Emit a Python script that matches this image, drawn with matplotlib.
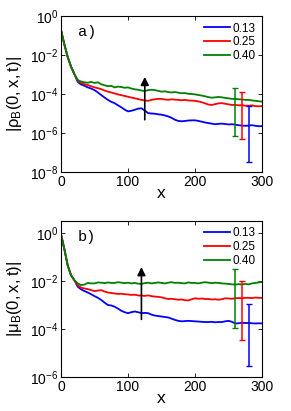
import numpy as np
import matplotlib
matplotlib.use("Agg")
import matplotlib.pyplot as plt

plt.rcParams['font.family'] = ['Liberation Sans', 'DejaVu Sans']
plt.rcParams['mathtext.default'] = 'regular'

# ---------------- data (log10 values) ----------------
x = np.arange(0, 301, 5)
labels = ["0.13", "0.25", "0.40"]
colors = ["#0000ff", "#ff0000", "#008000"]

a_start = [-0.72, -1.45, -2.10, -2.60, -2.98]
a_blue = [-3.38, -3.51, -3.58, -3.66, -3.72, -3.80, -3.92, -4.05, -4.18, -4.30, -4.40, -4.47, -4.58, -4.68,
          -4.80, -4.89, -4.86, -4.81, -4.75, -4.73, -4.85, -4.98, -5.00, -5.01, -5.04, -5.06, -5.10, -5.15,
          -5.22, -5.32, -5.38, -5.40, -5.38, -5.36, -5.35, -5.35, -5.38, -5.42, -5.46, -5.49, -5.52, -5.55,
          -5.53, -5.52, -5.54, -5.56, -5.55, -5.57, -5.60, -5.62, -5.63, -5.62, -5.60, -5.63, -5.65, -5.65]
a_red = [-3.32, -3.43, -3.50, -3.54, -3.60, -3.66, -3.70, -3.75, -3.82, -3.88, -3.92, -3.97, -4.02, -4.06,
         -4.10, -4.14, -4.18, -4.22, -4.26, -4.30, -4.33, -4.35, -4.30, -4.27, -4.25, -4.25, -4.28, -4.30,
         -4.27, -4.29, -4.30, -4.32, -4.30, -4.33, -4.34, -4.35, -4.38, -4.42, -4.48, -4.54, -4.56, -4.52,
         -4.48, -4.47, -4.50, -4.53, -4.56, -4.56, -4.58, -4.57, -4.60, -4.60, -4.58, -4.62, -4.63, -4.62]
a_green = [-3.28, -3.36, -3.40, -3.42, -3.38, -3.43, -3.40, -3.50, -3.55, -3.60, -3.58, -3.66, -3.62, -3.64,
           -3.68, -3.66, -3.72, -3.76, -3.78, -3.82, -3.85, -3.80, -3.78, -3.80, -3.84, -3.88, -3.86, -3.90,
           -3.92, -3.90, -3.93, -3.96, -3.95, -3.99, -4.00, -4.02, -4.05, -4.08, -4.12, -4.16, -4.19, -4.17,
           -4.15, -4.17, -4.20, -4.22, -4.25, -4.25, -4.27, -4.28, -4.30, -4.30, -4.33, -4.35, -4.37, -4.39]

b_start = [-0.05, -0.67, -1.35, -1.76, -1.97]
b_blue = [-2.24, -2.35, -2.42, -2.48, -2.55, -2.63, -2.70, -2.79, -2.90, -3.00, -3.02, -3.07, -3.15, -3.24,
          -3.30, -3.34, -3.30, -3.27, -3.30, -3.34, -3.33, -3.34, -3.40, -3.44, -3.46, -3.48, -3.50, -3.52,
          -3.57, -3.62, -3.66, -3.68, -3.67, -3.66, -3.67, -3.68, -3.69, -3.70, -3.71, -3.71, -3.70, -3.72,
          -3.71, -3.71, -3.68, -3.66, -3.70, -3.77, -3.76, -3.74, -3.75, -3.75, -3.76, -3.77, -3.76, -3.77]
b_red = [-2.17, -2.28, -2.31, -2.34, -2.38, -2.42, -2.40, -2.38, -2.44, -2.48, -2.50, -2.52, -2.54, -2.53,
         -2.55, -2.56, -2.58, -2.57, -2.60, -2.61, -2.62, -2.60, -2.63, -2.65, -2.66, -2.68, -2.72, -2.75,
         -2.74, -2.76, -2.78, -2.77, -2.80, -2.81, -2.76, -2.72, -2.74, -2.73, -2.75, -2.75, -2.77, -2.76,
         -2.78, -2.76, -2.72, -2.73, -2.74, -2.72, -2.71, -2.72, -2.70, -2.70, -2.71, -2.69, -2.70, -2.70]
b_green = [-2.10, -2.17, -2.15, -2.08, -2.10, -2.10, -2.06, -2.07, -2.09, -2.06, -2.08, -2.08, -2.05, -2.07,
           -2.09, -2.07, -2.10, -2.08, -2.11, -2.12, -2.09, -2.07, -2.10, -2.08, -2.06, -2.08, -2.10, -2.07,
           -2.05, -2.08, -2.07, -2.09, -2.10, -2.06, -2.08, -2.08, -2.10, -2.07, -2.05, -2.07, -2.09, -2.07,
           -2.08, -2.10, -2.11, -2.12, -2.14, -2.15, -2.13, -2.15, -2.12, -2.14, -2.10, -2.08, -2.06, -2.04]

# error bars: x position, lower and upper log10 bounds (blue, red, green)
err_x = [280, 270, 260]
a_err_lo = [-7.48, -6.33, -6.13]
a_err_hi = [-4.64, -3.88, -3.68]
b_err_lo = [-5.56, -4.47, -3.96]
b_err_hi = [-2.97, -2.01, -1.49]

# arrows (x, y_from, y_to) in log10
a_arrow = (125, -5.32, -3.12)
b_arrow = (120, -3.60, -1.42)

panels = [
    dict(start=a_start, series=[a_blue, a_red, a_green], lo=a_err_lo, hi=a_err_hi, arrow=a_arrow,
         ylim=(1e-8, 1e0), yticks=[1e-8, 1e-6, 1e-4, 1e-2, 1e0], ylabel=r"$|\rho_B(0,x,t)|$", tag="a)",
         rect=[0.2096, 0.5815, 0.691, 0.3795]),
    dict(start=b_start, series=[b_blue, b_red, b_green], lo=b_err_lo, hi=b_err_hi, arrow=b_arrow,
         ylim=(1e-6, 10 ** 0.5), yticks=[1e-6, 1e-4, 1e-2, 1e0], ylabel=r"$|\mu_B(0,x,t)|$", tag="b)",
         rect=[0.2096, 0.0827, 0.691, 0.3796]),
]

fig = plt.figure(figsize=(2.91, 4.11), dpi=100)

for p in panels:
    ax = fig.add_axes(p["rect"])
    for s, c, lab in zip(p["series"], colors, labels):
        y = 10 ** np.array(p["start"] + s)
        ax.plot(x, y, color=c, lw=1.3, label=lab)
    for xi, s, lo, hi, c in zip(err_x, p["series"], p["lo"], p["hi"], colors):
        yc = 10 ** (p["start"] + s)[list(x).index(xi)]
        ax.errorbar([xi], [yc], yerr=[[yc - 10 ** lo], [10 ** hi - yc]], color=c, lw=1.1,
                    capsize=2.0, capthick=1.0, fmt='none')
    ax_x, y0, y1 = p["arrow"]
    ax.annotate("", xy=(ax_x, 10 ** y1), xytext=(ax_x, 10 ** y0),
                arrowprops=dict(arrowstyle="-|>", color="black", lw=1.2,
                                mutation_scale=12, shrinkA=0, shrinkB=0))
    ax.set_yscale("log")
    ax.set_xlim(0, 300)
    ax.set_ylim(*p["ylim"])
    ax.set_xticks([0, 100, 200, 300])
    ax.set_yticks(p["yticks"])
    ax.yaxis.set_minor_locator(matplotlib.ticker.NullLocator())
    ax.tick_params(direction="in", top=True, right=True, labelsize=10, length=3, width=0.6, pad=2)
    for sp in ax.spines.values():
        sp.set_linewidth(0.8)
    ax.set_xlabel("x", fontsize=12.5, labelpad=-2)
    ax.set_ylabel(p["ylabel"], fontsize=12, labelpad=4)
    ax.text(0.085, 0.9, p["tag"], transform=ax.transAxes, fontsize=11,
            family="Liberation Mono", va="center", ha="left")
    ax.legend(loc="upper right", frameon=False, fontsize=8.5, handlelength=2.2,
              handletextpad=0.2, labelspacing=0.15, borderaxespad=0.15,
              bbox_to_anchor=(1.0, 1.0))

fig.savefig("out.png", dpi=100)
